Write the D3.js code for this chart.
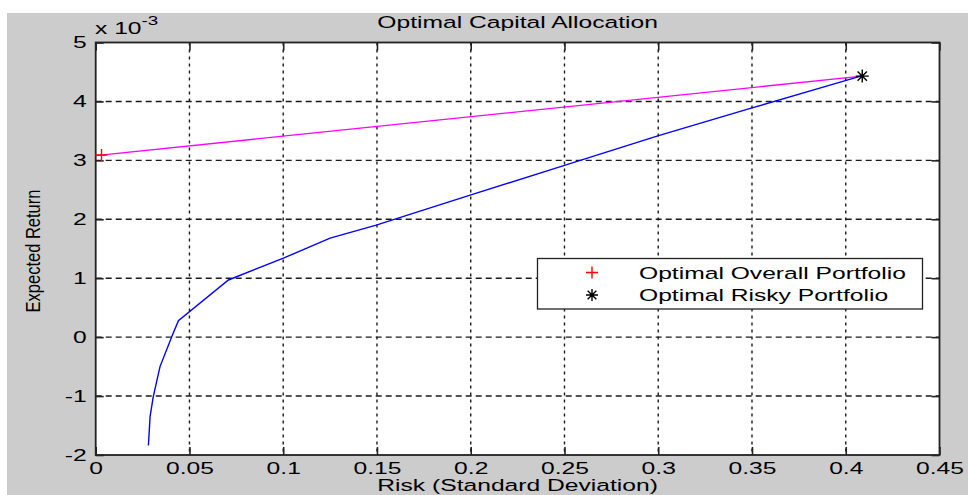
<!DOCTYPE html>
<html>
<head>
<meta charset="utf-8">
<script src="https://cdn.jsdelivr.net/npm/d3@7"></script>
<style>
  body { margin: 0; background: #fff; }
  text { font-family: "Liberation Sans", Arial, sans-serif; fill: #000; }
</style>
</head>
<body>
<div id="chart"></div>
<script>
// ── Data (returns are in units of 1e-3) ─────────────────────────
const riskTicks   = [0, 0.05, 0.1, 0.15, 0.2, 0.25, 0.3, 0.35, 0.4, 0.45];
const returnTicks = [-2, -1, 0, 1, 2, 3, 4, 5];

// efficient frontier (blue)
const frontierRisk   = [0.0281, 0.0290, 0.0307, 0.0343, 0.0406, 0.0441, 0.0708, 0.1001, 0.125, 0.1496, 0.1997, 0.2504, 0.3002, 0.350, 0.408];
const frontierReturn = [-1.84, -1.35, -1.01, -0.50, 0.01, 0.28, 0.97, 1.34, 1.68, 1.90, 2.41, 2.92, 3.42, 3.89, 4.43];

// capital allocation line (magenta)
const calRisk   = [0, 0.4088];
const calReturn = [3.08, 4.43];

// marked portfolios
const overallPortfolio = { risk: 0.0031, ret: 3.09 };
const riskyPortfolio   = { risk: 0.4088, ret: 4.43 };

const legendLabels = ["Optimal Overall Portfolio", "Optimal Risky Portfolio"];

// ── Layout ──────────────────────────────────────────────────────
const W = 968, H = 495;
const box = { left: 95.7, right: 939.5, top: 42.5, bottom: 455 };
const SX = 1.45;            // the picture's text is stretched sideways
const FS = 17;

const svg = d3.select("#chart").append("svg")
  .attr("width", W).attr("height", H);

svg.append("rect").attr("width", W).attr("height", H).attr("fill", "#fff");
svg.append("rect").attr("x", 7).attr("y", 13)
  .attr("width", W - 7).attr("height", H - 13).attr("fill", "#cccccc");

const x = d3.scaleLinear().domain([0, 0.45]).range([box.left, box.right]);
const y = d3.scaleLinear().domain([-2, 5]).range([box.bottom, box.top]);

// plot area
svg.append("rect")
  .attr("x", box.left).attr("y", box.top)
  .attr("width", box.right - box.left).attr("height", box.bottom - box.top)
  .attr("fill", "#fff");

// grid
const grid = svg.append("g").attr("stroke", "#1a1a1a").attr("stroke-width", 1.4);
grid.selectAll(".vgrid")
  .data(riskTicks.slice(1, -1))
  .join("line")
    .attr("x1", d => x(d)).attr("x2", d => x(d))
    .attr("y1", box.top).attr("y2", box.bottom)
    .attr("stroke-dasharray", "3,4");
grid.selectAll(".hgrid")
  .data(returnTicks.slice(1, -1))
  .join("line")
    .attr("x1", box.left).attr("x2", box.right)
    .attr("y1", d => y(d)).attr("y2", d => y(d))
    .attr("stroke-dasharray", "6,4");

// axes with inward ticks
const fmt = d => String(+d.toFixed(2));
const tick = 8;

const gx = svg.append("g")
  .attr("transform", `translate(0,${box.bottom})`)
  .call(d3.axisBottom(x).tickValues(riskTicks).tickFormat(fmt)
    .tickSizeInner(-tick).tickSizeOuter(0).tickPadding(5));
const gy = svg.append("g")
  .attr("transform", `translate(${box.left},0)`)
  .call(d3.axisLeft(y).tickValues(returnTicks).tickFormat(fmt)
    .tickSizeInner(-tick).tickSizeOuter(0).tickPadding(9));
svg.append("g")
  .attr("transform", `translate(0,${box.top})`)
  .call(d3.axisTop(x).tickValues(riskTicks).tickFormat("")
    .tickSizeInner(-tick).tickSizeOuter(0));
svg.append("g")
  .attr("transform", `translate(${box.right},0)`)
  .call(d3.axisRight(y).tickValues(returnTicks).tickFormat("")
    .tickSizeInner(-tick).tickSizeOuter(0));

svg.selectAll(".domain").remove();
svg.selectAll(".tick line").attr("stroke", "#222").attr("stroke-width", 1.6);

gx.selectAll("text")
  .attr("font-size", FS).attr("font-family", null)
  .attr("y", 7)
  .attr("transform", `scale(${SX},1)`);
gy.selectAll("text")
  .attr("font-size", FS).attr("font-family", null)
  .attr("x", -9 / SX)
  .attr("transform", `scale(${SX},1)`);

// box
svg.append("rect")
  .attr("x", box.left).attr("y", box.top)
  .attr("width", box.right - box.left).attr("height", box.bottom - box.top)
  .attr("fill", "none").attr("stroke", "#222").attr("stroke-width", 1.8);

// ── Lines ───────────────────────────────────────────────────────
const line = d3.line().x(d => x(d[0])).y(d => y(d[1]));

svg.append("path")
  .datum(calRisk.map((r, i) => [r, calReturn[i]]))
  .attr("d", line)
  .attr("fill", "none").attr("stroke", "#ff00ff").attr("stroke-width", 1.3);

svg.append("path")
  .datum(frontierRisk.map((r, i) => [r, frontierReturn[i]]))
  .attr("d", line)
  .attr("fill", "none").attr("stroke", "#0000ff").attr("stroke-width", 1.4);

// markers
function plus(g, cx, cy, s, color) {
  g.append("path")
    .attr("d", `M${cx - s},${cy}H${cx + s}M${cx},${cy - s}V${cy + s}`)
    .attr("stroke", color).attr("stroke-width", 1.4).attr("fill", "none");
}
function star(g, cx, cy, s, color) {
  const d = s * 0.72;
  g.append("path")
    .attr("d", `M${cx - s},${cy}H${cx + s}M${cx},${cy - s}V${cy + s}` +
               `M${cx - d},${cy - d}L${cx + d},${cy + d}M${cx - d},${cy + d}L${cx + d},${cy - d}`)
    .attr("stroke", color).attr("stroke-width", 1.4).attr("fill", "none");
}

plus(svg, x(overallPortfolio.risk), y(overallPortfolio.ret), 6, "#ff0000");
star(svg, x(riskyPortfolio.risk), y(riskyPortfolio.ret), 6.5, "#000");

// ── Texts ───────────────────────────────────────────────────────
svg.append("text")
  .attr("transform", `translate(${(box.left + box.right) / 2},28) scale(${SX},1)`)
  .attr("text-anchor", "middle").attr("font-size", FS)
  .text("Optimal Capital Allocation");

svg.append("text")
  .attr("transform", `translate(${(box.left + box.right) / 2},491) scale(${SX},1)`)
  .attr("text-anchor", "middle").attr("font-size", FS)
  .text("Risk (Standard Deviation)");

svg.append("text")
  .attr("transform", `translate(40,251) scale(1.25,1) rotate(-90)`)
  .attr("text-anchor", "middle").attr("font-size", 16.5)
  .text("Expected Return");

const expo = svg.append("text")
  .attr("transform", `translate(95,34) scale(${SX},1)`)
  .attr("font-size", FS);
expo.append("tspan").text("x 10");
expo.append("tspan").attr("dy", -9).attr("font-size", 13).text("-3");

// legend
const lg = svg.append("g");
lg.append("rect")
  .attr("x", 537.5).attr("y", 258.5).attr("width", 385).attr("height", 50.5)
  .attr("fill", "#fff").attr("stroke", "#222").attr("stroke-width", 1.3);
const rows = [272.5, 295];
plus(lg, 592, rows[0], 6, "#ff0000");
star(lg, 592, rows[1], 6, "#000");
legendLabels.forEach((t, i) => {
  lg.append("text")
    .attr("transform", `translate(639,${rows[i] + 6}) scale(${SX},1)`)
    .attr("font-size", FS)
    .text(t);
});
</script>
</body>
</html>
